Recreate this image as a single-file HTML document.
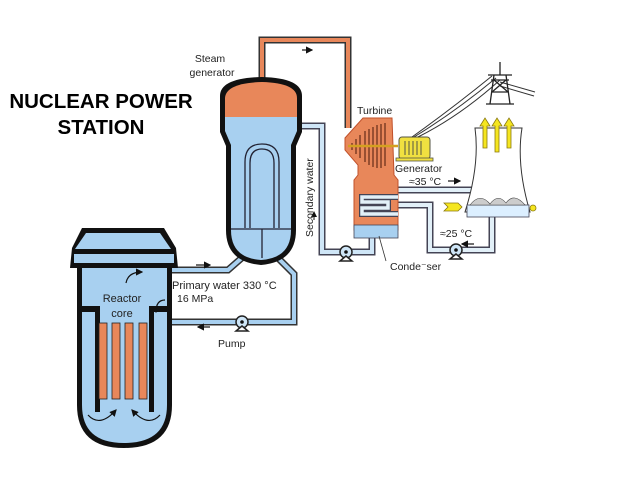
<!DOCTYPE html>
<html><head><meta charset="utf-8"><style>
html,body{margin:0;padding:0;background:#fff;width:638px;height:479px;overflow:hidden}
text{font-family:"Liberation Sans",sans-serif}
</style></head><body>
<svg width="638" height="479" viewBox="0 0 638 479" xmlns="http://www.w3.org/2000/svg">
<defs>
<marker id="ah" markerWidth="6" markerHeight="6" refX="5" refY="3" orient="auto"><path d="M0,0 L6,3 L0,6 z" fill="#111"/></marker>
</defs>
<text x="101" y="108" font-size="20.5" font-weight="bold" text-anchor="middle">NUCLEAR POWER</text>
<text x="101" y="134" font-size="20.5" font-weight="bold" text-anchor="middle">STATION</text>

<path d="M262,80 L262,40 L348,40 L348,128" fill="none" stroke="#333" stroke-width="7"/>
<path d="M262,80 L262,40 L348,40 L348,128" fill="none" stroke="#e8875a" stroke-width="4"/>
<line x1="302" y1="50" x2="312" y2="50" stroke="#111" stroke-width="1.2" marker-end="url(#ah)"/>

<g fill="none" stroke-linejoin="miter">
<path d="M244,256 L228,270 L170,270" stroke="#333" stroke-width="7"/>
<path d="M244,256 L228,270 L170,270" stroke="#a8d0f0" stroke-width="4"/>
<path d="M276,256 L294,274 L294,322 L162,322 L158,326 L158,345" stroke="#333" stroke-width="7"/>
<path d="M276,256 L294,274 L294,322 L162,322 L158,326 L158,345" stroke="#a8d0f0" stroke-width="4"/>
<path d="M298,126 L322,126 L322,252 L372,252 L372,236" stroke="#445" stroke-width="7"/>
<path d="M298,126 L322,126 L322,252 L372,252 L372,236" stroke="#cfe6f7" stroke-width="4"/>
<path d="M360,190 L516,190" stroke="#445" stroke-width="7"/>
<path d="M360,190 L516,190" stroke="#e2f0f8" stroke-width="4"/>
<path d="M395,205 L430,205 L430,250 L492,250 L492,215" stroke="#445" stroke-width="7"/>
<path d="M395,205 L430,205 L430,250 L492,250 L492,215" stroke="#e2f0f8" stroke-width="4"/>
</g>
<line x1="196" y1="265" x2="210" y2="265" stroke="#111" stroke-width="1.2" marker-end="url(#ah)"/>
<line x1="210" y1="327" x2="198" y2="327" stroke="#111" stroke-width="1.2" marker-end="url(#ah)"/>
<line x1="314" y1="220" x2="314" y2="212" stroke="#111" stroke-width="1" marker-end="url(#ah)"/>
<line x1="474" y1="244" x2="462" y2="244" stroke="#111" stroke-width="1.2" marker-end="url(#ah)"/>
<line x1="448" y1="181" x2="460" y2="181" stroke="#111" stroke-width="1.2" marker-end="url(#ah)"/>

<g stroke="#222" stroke-width="1.5" fill="#cfe6f7">
<circle cx="242" cy="322" r="6"/><path d="M236,331 L248,331 L242,326z" fill="#fff"/>
<circle cx="346" cy="252" r="6"/><path d="M340,261 L352,261 L346,256z" fill="#fff"/>
<circle cx="456" cy="250" r="6"/><path d="M450,259 L462,259 L456,254z" fill="#fff"/>
</g>
<circle cx="242" cy="322" r="1.8" fill="#111"/><circle cx="346" cy="252" r="1.8" fill="#111"/><circle cx="456" cy="250" r="1.8" fill="#111"/>

<path d="M82,228 L164,228 L176,248 L178,268 L172,268 L172,405 Q172,448 124,448 Q77,448 77,405 L77,268 L70,268 L72,248 Z" fill="#111"/>
<path d="M86,233 L160,233 L171,249 L75,249 Z" fill="#a8d0f0"/>
<rect x="74" y="254" width="100" height="9" fill="#a8d0f0"/>
<path d="M82,268 L167,268 L167,405 Q167,443 124,443 Q82,443 82,405 Z" fill="#a8d0f0"/>
<path d="M82,306 L100,306 L100,412 L95,412 L95,312 L82,312 Z" fill="#111"/>
<path d="M167,306 L149,306 L149,412 L154,412 L154,312 L167,312 Z" fill="#111"/>
<g fill="#e8875a" stroke="#222" stroke-width="0.8">
<rect x="99" y="323" width="8" height="76"/><rect x="112" y="323" width="8" height="76"/>
<rect x="125" y="323" width="8" height="76"/><rect x="139" y="323" width="8" height="76"/>
</g>
<g fill="none" stroke="#111" stroke-width="1.2">
<path d="M126,283 Q128,272 142,272" marker-end="url(#ah)"/>
<path d="M165,300 Q156,300 156,312" marker-end="url(#ah)"/>
<path d="M88,415 Q100,428 116,410" marker-end="url(#ah)"/>
<path d="M160,415 Q148,428 132,410" marker-end="url(#ah)"/>
</g>
<text x="122" y="302" font-size="11" text-anchor="middle" fill="#222">Reactor</text>
<text x="122" y="317" font-size="11" text-anchor="middle" fill="#222">core</text>

<path d="M220,96 Q220,78 262,77 Q302,78 302,96 L302,132 L296,146 L296,230 Q296,262 261,265 Q226,262 226,230 L226,146 L220,132 Z" fill="#111"/>
<path d="M225,98 Q226,83 262,82 Q297,83 297,98 L297,117 L225,117 Z" fill="#e8875a"/>
<path d="M225,117 L297,117 L297,131 L291,145 L291,230 Q291,258 261,260 Q231,258 231,230 L231,145 L225,131 Z" fill="#a8d0f0"/>
<path d="M245,228 L245,162 Q245,144 262,144 Q279,144 279,162 L279,228" fill="none" stroke="#223" stroke-width="1.3"/>
<path d="M250,228 L250,163 Q250,149 262,149 Q274,149 274,163 L274,228" fill="none" stroke="#223" stroke-width="1.3"/>
<line x1="231" y1="229" x2="291" y2="229" stroke="#223" stroke-width="1.3"/>
<line x1="262" y1="229" x2="262" y2="258" stroke="#223" stroke-width="1.3"/>
<text x="210" y="62" font-size="10.5" text-anchor="middle" fill="#222">Steam</text>
<text x="212" y="76" font-size="10.5" text-anchor="middle" fill="#222">generator</text>
<text transform="translate(313,237) rotate(-90)" font-size="10.5" fill="#222">Secondary water</text>
<text x="172" y="289" font-size="11" fill="#222">Primary water 330 °C</text>
<text x="177" y="302" font-size="10.5" fill="#222">16 MPa</text>
<text x="218" y="347" font-size="10.5" fill="#222">Pump</text>

<path d="M363,118 L392,118 L394,175 L398,180 L398,230 L354,230 L354,180 L358,175 L358,165 L345,150 L345,138 Z" fill="#e8875a" stroke="#c0502a" stroke-width="1"/>
<g stroke="#4a1a0a" stroke-width="1">
<line x1="352" y1="143" x2="352" y2="150"/><line x1="356" y1="139" x2="356" y2="154"/>
<line x1="360" y1="135" x2="360" y2="158"/><line x1="365" y1="131" x2="365" y2="162"/>
<line x1="369" y1="129" x2="369" y2="165"/><line x1="373" y1="127" x2="373" y2="167"/>
<line x1="377" y1="125" x2="377" y2="168"/><line x1="381" y1="124" x2="381" y2="168"/>
<line x1="385" y1="123" x2="385" y2="166"/>
<line x1="348" y1="146" x2="398" y2="146" stroke="#d4a020" stroke-width="2.5"/>
</g>
<rect x="354" y="225" width="44" height="13" fill="#a8d0f0" stroke="#445" stroke-width="0.8"/>
<path d="M398,197 L362,197 L362,202 L388,202 L388,208 L362,208 L362,214 L398,214" fill="none" stroke="#445" stroke-width="6"/>
<path d="M398,197 L362,197 L362,202 L388,202 L388,208 L362,208 L362,214 L398,214" fill="none" stroke="#e2f0f8" stroke-width="3.5"/>
<text x="357" y="114" font-size="10.5" fill="#222">Turbine</text>
<text x="395" y="172" font-size="10.5" fill="#222">Generator</text>
<text x="409" y="185" font-size="10.5" fill="#222">≈35 °C</text>
<text x="440" y="237" font-size="10.5" fill="#222">≈25 °C</text>
<text x="390" y="270" font-size="10.5" fill="#222">Conde⁻ser</text>
<line x1="386" y1="261" x2="379" y2="236" stroke="#333" stroke-width="0.8"/>

<rect x="399" y="137" width="31" height="22" rx="3" fill="#f0e040" stroke="#554" stroke-width="1"/>
<g stroke="#554" stroke-width="1"><line x1="405" y1="141" x2="405" y2="155"/><line x1="409" y1="141" x2="409" y2="155"/><line x1="413" y1="141" x2="413" y2="155"/><line x1="417" y1="141" x2="417" y2="155"/><line x1="421" y1="141" x2="421" y2="155"/></g>
<rect x="396" y="158" width="37" height="3" fill="#f0e040" stroke="#554" stroke-width="0.8"/>
<g fill="none" stroke="#333" stroke-width="1">
<path d="M412,137 Q450,110 492,76"/><path d="M414,137 Q455,112 496,78"/><path d="M418,137 Q460,116 500,80"/>
<path d="M500,82 L535,92"/><path d="M500,86 L534,96"/>
</g>
<g stroke="#222" stroke-width="1.3" fill="none">
<line x1="500" y1="62" x2="500" y2="75"/><path d="M494,75 L490,104 M506,75 L510,104 M486,104 L514,104 M488,75 L512,75 M491,80 L509,80 M492,92 L508,92"/>
<path d="M494,80 L508,92 M506,80 L492,92"/>
</g>

<path d="M475,128 L522,128 Q516,165 530,212 L465,212 Q480,165 475,128 Z" fill="#fff" stroke="#333" stroke-width="1"/>
<rect x="467" y="205" width="62" height="12" fill="#dcefff" stroke="#445" stroke-width="0.8"/>
<path d="M470,205 Q480,192 490,204 Q498,193 506,203 Q514,192 525,205 Z" fill="#ccc" stroke="#444" stroke-width="0.6"/>
<g fill="#f5e620" stroke="#8a7a10" stroke-width="0.8">
<path d="M483,148 L483,126 L480,126 L485,118 L490,126 L487,126 L487,148 Z"/>
<path d="M495,152 L495,126 L492,126 L497,118 L502,126 L499,126 L499,152 Z"/>
<path d="M507,148 L507,126 L504,126 L509,118 L514,126 L511,126 L511,148 Z"/>
<path d="M444,203 L458,203 L462,207 L458,211 L444,211 L448,207 Z"/>
<circle cx="533" cy="208" r="3"/>
</g>
</svg>
</body></html>
